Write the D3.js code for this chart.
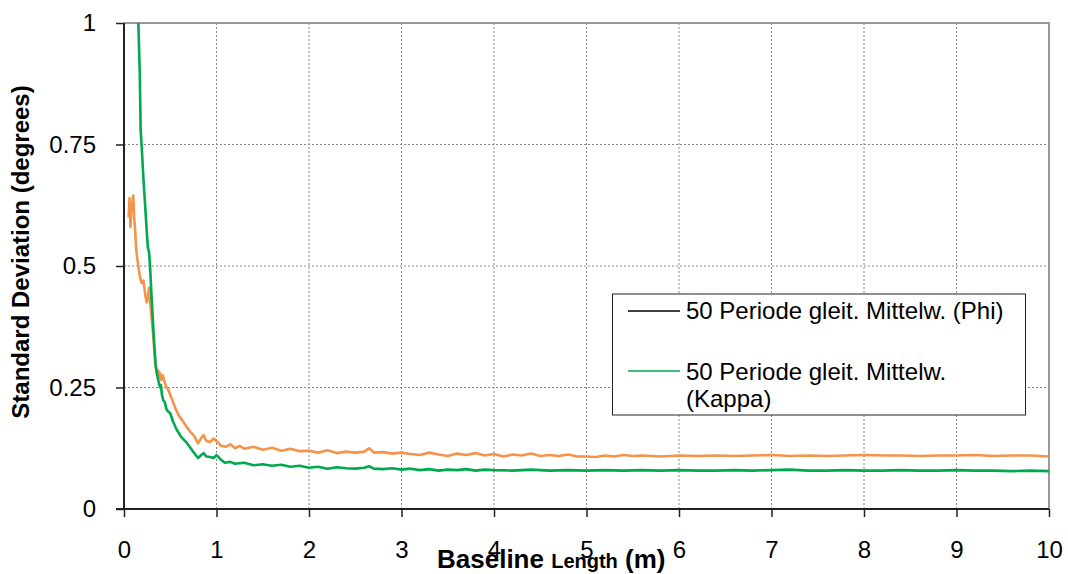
<!DOCTYPE html>
<html><head><meta charset="utf-8">
<script src="https://cdn.jsdelivr.net/npm/d3@7"></script>
<style>body{margin:0;background:#fff}svg{display:block;font-family:"Liberation Sans",Arial,sans-serif}</style>
</head><body><svg id="c" width="1068" height="574"></svg>
<script>
const xTicks=[0,1,2,3,4,5,6,7,8,9,10];
const yTicks=[0,0.25,0.5,0.75,1];
const yTickLabels=["0","0.25","0.5","0.75","1"];
const seriesNames=["50 Periode gleit. Mittelw. (Phi)","50 Periode gleit. Mittelw. (Kappa)"];
const phiX=[0.05,0.06,0.07,0.08,0.09,0.10,0.11,0.12,0.13,0.14,0.155,0.17,0.19,0.21,0.23,0.245,0.26,0.27,0.28,0.29,0.30,0.317,0.33,0.345,0.36,0.37,0.38,0.39,0.40,0.42,0.44,0.46,0.48,0.50,0.53,0.56,0.60,0.64,0.68,0.72,0.76,0.80,0.83,0.86,0.89,0.93,0.97,1.0,1.05,1.1,1.15,1.2,1.25,1.3,1.4,1.5,1.6,1.7,1.8,1.9,2.0,2.1,2.2,2.3,2.4,2.5,2.6,2.65,2.7,2.8,2.9,3.0,3.1,3.2,3.3,3.4,3.5,3.6,3.7,3.8,3.9,4.0,4.1,4.2,4.3,4.4,4.5,4.6,4.7,4.8,4.9,5.0,5.1,5.2,5.3,5.4,5.5,5.6,5.8,6.0,6.2,6.4,6.6,6.8,7.0,7.2,7.4,7.6,7.8,8.0,8.2,8.4,8.6,8.8,9.0,9.2,9.4,9.6,9.8,10];
const phiY=[0.60,0.64,0.58,0.62,0.63,0.645,0.60,0.575,0.54,0.52,0.50,0.48,0.465,0.47,0.44,0.425,0.44,0.455,0.43,0.41,0.39,0.355,0.32,0.29,0.275,0.285,0.27,0.28,0.265,0.275,0.26,0.25,0.245,0.235,0.22,0.205,0.19,0.18,0.168,0.158,0.15,0.135,0.145,0.152,0.14,0.138,0.145,0.14,0.13,0.128,0.133,0.125,0.13,0.124,0.128,0.122,0.126,0.12,0.124,0.119,0.12,0.116,0.121,0.115,0.118,0.116,0.118,0.125,0.116,0.117,0.114,0.116,0.113,0.111,0.116,0.112,0.109,0.114,0.111,0.115,0.110,0.113,0.108,0.112,0.110,0.114,0.109,0.111,0.109,0.112,0.108,0.108,0.107,0.110,0.108,0.111,0.109,0.110,0.108,0.110,0.109,0.110,0.109,0.110,0.111,0.109,0.110,0.109,0.110,0.111,0.110,0.110,0.109,0.110,0.110,0.111,0.109,0.110,0.110,0.108];
const kappaX=[0.14,0.155,0.17,0.18,0.19,0.21,0.23,0.25,0.26,0.27,0.28,0.30,0.32,0.34,0.35,0.37,0.39,0.40,0.41,0.425,0.44,0.46,0.48,0.50,0.53,0.57,0.62,0.68,0.74,0.80,0.83,0.86,0.89,0.93,0.97,1.0,1.04,1.09,1.15,1.2,1.3,1.4,1.5,1.6,1.7,1.8,1.9,2.0,2.1,2.2,2.3,2.4,2.5,2.6,2.65,2.7,2.8,2.9,3.0,3.1,3.2,3.3,3.4,3.5,3.6,3.7,3.8,3.9,4.0,4.2,4.4,4.6,4.8,5.0,5.2,5.4,5.6,5.8,6.0,6.2,6.4,6.6,6.8,7.0,7.2,7.4,7.6,7.8,8.0,8.2,8.4,8.6,8.8,9.0,9.2,9.4,9.6,9.8,10];
const kappaY=[1.05,1.0,0.90,0.78,0.75,0.68,0.62,0.56,0.535,0.53,0.505,0.43,0.36,0.30,0.286,0.265,0.25,0.255,0.235,0.224,0.22,0.205,0.20,0.197,0.18,0.163,0.148,0.136,0.12,0.105,0.11,0.115,0.108,0.107,0.105,0.111,0.103,0.095,0.097,0.093,0.095,0.090,0.092,0.089,0.091,0.087,0.089,0.085,0.087,0.083,0.086,0.084,0.083,0.085,0.088,0.083,0.082,0.084,0.081,0.083,0.080,0.082,0.079,0.081,0.080,0.082,0.079,0.081,0.080,0.079,0.081,0.079,0.080,0.079,0.080,0.079,0.080,0.079,0.080,0.079,0.079,0.080,0.079,0.080,0.081,0.079,0.079,0.080,0.079,0.079,0.080,0.079,0.079,0.080,0.079,0.079,0.078,0.079,0.078];

const svg=d3.select("#c");
const L=124,R=1049,T=23,B=509;
const x=d3.scaleLinear().domain([0,10]).range([L,R]);
const y=d3.scaleLinear().domain([0,1]).range([B,T]);
const FF="Liberation Sans, Arial, sans-serif";

svg.append("defs").append("clipPath").attr("id","clip").append("rect").attr("x",L).attr("y",T).attr("width",R-L).attr("height",B-T);

// grid
const g=svg.append("g");
g.selectAll(".gx").data(xTicks.slice(1,-1)).join("line").attr("x1",d=>x(d)).attr("x2",d=>x(d)).attr("y1",T).attr("y2",B).attr("stroke","#888").attr("stroke-width",1).attr("stroke-dasharray","2,2");
g.selectAll(".gy").data(yTicks.slice(1,-1)).join("line").attr("x1",L).attr("x2",R).attr("y1",d=>y(d)).attr("y2",d=>y(d)).attr("stroke","#888").attr("stroke-width",1).attr("stroke-dasharray","2,2");
// frame top/right
svg.append("line").attr("x1",L).attr("x2",R+1).attr("y1",T).attr("y2",T).attr("stroke","#999").attr("stroke-width",2);
svg.append("line").attr("x1",R).attr("x2",R).attr("y1",T).attr("y2",B).attr("stroke","#999").attr("stroke-width",2);

// lines
const line=d3.line().x(d=>x(d[0])).y(d=>y(d[1]));
const lines=svg.append("g").attr("clip-path","url(#clip)");
lines.append("path").datum(d3.zip(phiX,phiY)).attr("d",line).attr("fill","none").attr("stroke","#F4934A").attr("stroke-width",2.6).attr("stroke-linejoin","round");
lines.append("path").datum(d3.zip(kappaX,kappaY)).attr("d",line).attr("fill","none").attr("stroke","#00A84F").attr("stroke-width",2.6).attr("stroke-linejoin","round");

// axes
const ya=svg.append("g").attr("transform",`translate(${L},0)`).call(d3.axisLeft(y).tickValues(yTicks).tickFormat((d,i)=>yTickLabels[i]).tickSize(8).tickPadding(20));
const xa=svg.append("g").attr("transform",`translate(0,${B})`).call(d3.axisBottom(x).tickValues(xTicks).tickFormat(d3.format("d")).tickSize(8).tickPadding(24));
[ya,xa].forEach(a=>{a.attr("font-size",24).attr("font-family",FF);a.select(".domain").attr("stroke","#222").attr("stroke-width",2);a.selectAll(".tick line").attr("stroke","#222").attr("stroke-width",1.5);a.selectAll("text").attr("fill","#000");});
xa.select(".domain").attr("d",`M${L-8},0H${R}`);
ya.select(".domain").attr("d",`M0,${B}V${T}`);

// axis titles
svg.append("text").attr("transform",`translate(29,252) rotate(-90)`).attr("text-anchor","middle").attr("font-weight","bold").attr("font-size",24).text("Standard Deviation (degrees)");
const xt=svg.append("text").attr("x",437).attr("y",568).attr("font-weight","bold").attr("font-size",26);
xt.append("tspan").text("Baseline ");
xt.append("tspan").attr("font-size",20).text("Length");
xt.append("tspan").text(" (m)");

// legend
const lg=svg.append("g").attr("font-size",24);
lg.append("rect").attr("x",612.5).attr("y",294).attr("width",413).attr("height",121).attr("fill","#fff").attr("stroke","#222").attr("stroke-width",1);
lg.append("line").attr("x1",628).attr("x2",680).attr("y1",311).attr("y2",311).attr("stroke","#000").attr("stroke-width",1.5);
lg.append("line").attr("x1",628).attr("x2",680).attr("y1",371).attr("y2",371).attr("stroke","#00A84F").attr("stroke-width",1.5);
lg.append("text").attr("x",686).attr("y",319).text(seriesNames[0]);
const t2=lg.append("text").attr("x",686).attr("y",380);
t2.append("tspan").attr("x",686).text("50 Periode gleit. Mittelw.");
t2.append("tspan").attr("x",686).attr("dy",27).text("(Kappa)");
</script></body></html>
